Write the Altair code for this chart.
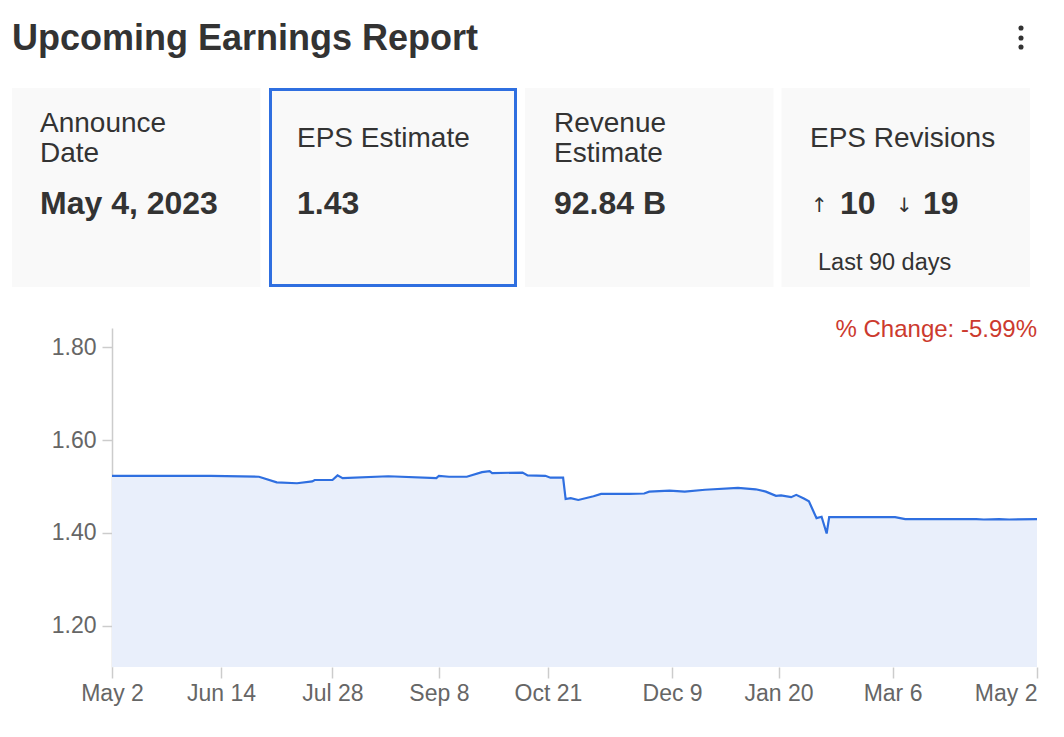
import altair as alt
import pandas as pd

# ---------------- data ----------------
title_text = "Upcoming Earnings Report"

dates = [
    "2022-05-02", "2022-06-10", "2022-06-29", "2022-07-06", "2022-07-14",
    "2022-07-20", "2022-07-21", "2022-07-28", "2022-07-30", "2022-08-01",
    "2022-08-19", "2022-09-07", "2022-09-08", "2022-09-12", "2022-09-19",
    "2022-09-25", "2022-09-28", "2022-09-29", "2022-10-11", "2022-10-13",
    "2022-10-20", "2022-10-22", "2022-10-27", "2022-10-28", "2022-10-30",
    "2022-11-02", "2022-11-08", "2022-11-11", "2022-11-22", "2022-11-28",
    "2022-11-30", "2022-12-08", "2022-12-14", "2022-12-22", "2023-01-04",
    "2023-01-11", "2023-01-15", "2023-01-19", "2023-01-21", "2023-01-25",
    "2023-01-27", "2023-01-30", "2023-02-01", "2023-02-04", "2023-02-06",
    "2023-02-08", "2023-02-09", "2023-02-21", "2023-03-07", "2023-03-11",
    "2023-04-08", "2023-04-11", "2023-04-17", "2023-04-21", "2023-05-02",
]
eps = [
    1.523, 1.523, 1.521, 1.509, 1.507,
    1.511, 1.514, 1.514, 1.524, 1.518,
    1.522, 1.518, 1.523, 1.521, 1.521,
    1.531, 1.533, 1.529, 1.530, 1.524,
    1.523, 1.519, 1.519, 1.473, 1.475,
    1.471, 1.479, 1.484, 1.484, 1.485,
    1.489, 1.491, 1.489, 1.493, 1.497,
    1.494, 1.489, 1.480, 1.481, 1.477,
    1.482, 1.474, 1.468, 1.432, 1.435,
    1.399, 1.434, 1.434, 1.434, 1.430,
    1.430, 1.429, 1.430, 1.429, 1.430,
]

y_ticks = [1.2, 1.4, 1.6, 1.8]
x_tick_dates = ["2022-05-02", "2022-06-14", "2022-07-28", "2022-09-08", "2022-10-21",
                "2022-12-09", "2023-01-20", "2023-03-06", "2023-05-02"]
x_domain = ["2022-05-02", "2023-05-02"]
y_domain = [1.1118, 1.8409]

card_titles = [["Announce", "Date"], ["EPS Estimate"], ["Revenue", "Estimate"], ["EPS Revisions"]]
card_values = ["May 4, 2023", "1.43", "92.84 B"]
revisions_up = "10"
revisions_down = "19"
revisions_note = "Last 90 days"
pct_change_text = "% Change: -5.99%"

# ---------------- helpers ----------------
FONT = "Liberation Sans"
TEXT_COLOR = "#333333"
BLUE = "#2f6fe0"


def dt(s):
    y, m, d = (int(p) for p in s.split("-"))
    return alt.DateTime(year=y, month=m, date=d, utc=True)


def one_row(s):
    return alt.Chart(pd.DataFrame({"t": [s]}))


def txt(s, x, y, size, bold=False, color=TEXT_COLOR, align="left", baseline="alphabetic", font=FONT):
    return one_row(s).mark_text(
        align=align, baseline=baseline, fontSize=size,
        fontWeight="bold" if bold else "normal", color=color, font=font,
    ).encode(x=alt.value(x), y=alt.value(y), text="t:N")


def card(x0, x1, y0, y1, border=False):
    kw = dict(fill="#f9f9f9")
    if border:
        kw.update(stroke=BLUE, strokeWidth=3)
    return one_row("card").mark_rect(**kw).encode(
        x=alt.value(x0), x2=alt.value(x1), y=alt.value(y0), y2=alt.value(y1)
    )


# ---------------- main area chart ----------------
df = pd.DataFrame({"date": dates, "eps": eps})

x_enc = alt.X(
    "date:T",
    scale=alt.Scale(type="utc", domain=[dt(x_domain[0]), dt(x_domain[1])]),
    axis=alt.Axis(
        values=[dt(s) for s in x_tick_dates], format="%b %-d", title=None,
        labelFontSize=23, labelColor="#666666", labelFont=FONT,
        tickColor="#cccccc", tickSize=11, tickWidth=1.5, domain=False,
        grid=False, labelPadding=4, labelOverlap=False,
        labelAlign={"condition": {"test": "datum.index == 1", "value": "right"}, "value": "center"},
    ),
)
y_enc = alt.Y(
    "eps:Q",
    scale=alt.Scale(domain=y_domain, nice=False, zero=False, clamp=True),
    axis=alt.Axis(
        values=y_ticks, format=".2f", title=None,
        labelFontSize=23, labelColor="#666666", labelFont=FONT,
        tickColor="#cccccc", tickSize=10, tickWidth=1.5,
        domainColor="#cccccc", domainWidth=1.5, grid=False, labelPadding=6,
    ),
)

base = alt.Chart(df)
area = base.mark_area(color="#e9effb", opacity=1).encode(x=x_enc, y=y_enc)
line = base.mark_line(color=BLUE, strokeWidth=2.2).encode(x=x_enc, y=y_enc)

# ---------------- header & cards (pixel offsets from plot origin) ----------------
layers = [area, line]

layers.append(txt(title_text, -100, -278, 36, bold=True))
for yy in (-300, -290, -281):
    layers.append(
        one_row("dot").mark_circle(size=26, color=TEXT_COLOR, opacity=1)
        .encode(x=alt.value(909), y=alt.value(yy))
    )

card_x = [(-100, 148.5), (158.5, 403.5), (413, 661.5), (669.5, 918)]
for i, (x0, x1) in enumerate(card_x):
    if i == 1:
        layers.append(card(x0, x1, -238.5, -42.5, border=True))
    else:
        layers.append(card(x0, x1, -240, -41))

text_x = [-72, 185, 442, 698]
for i, lines in enumerate(card_titles):
    if len(lines) == 2:
        layers.append(txt(lines[0], text_x[i], -196, 28))
        layers.append(txt(lines[1], text_x[i], -166, 28))
    else:
        layers.append(txt(lines[0], text_x[i], -181, 28))
for i, v in enumerate(card_values):
    layers.append(txt(v, text_x[i], -114, 32, bold=True))

layers.append(txt("\u2191", 699, -116, 20, font="DejaVu Sans"))
layers.append(txt(revisions_up, 728, -114, 32, bold=True))
layers.append(txt("\u2193", 784, -116, 20, font="DejaVu Sans"))
layers.append(txt(revisions_down, 811, -114, 32, bold=True))
layers.append(txt(revisions_note, 706, -58, 23.5))

layers.append(txt(pct_change_text, 925, 9, 24, color="#cc3a2e", align="right"))

chart = alt.layer(*layers).properties(
    width=925,
    height=339,
    autosize=alt.AutoSizeParams(type="none"),
    padding={"left": 104, "top": 320, "right": 19, "bottom": 50},
    background="white",
).configure(font=FONT).configure_view(strokeWidth=0, stroke="transparent")

chart.save("out.html", embed_options={"renderer": "svg", "actions": False})
